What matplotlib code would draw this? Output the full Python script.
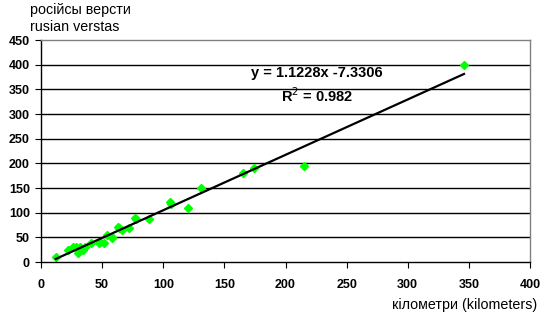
import matplotlib.pyplot as plt
import numpy as np

# kilometers vs russian versts
km = [12, 22, 26.5, 29, 30.5, 32, 34, 36, 40.5, 47.5, 48, 51.5, 54, 58, 58,
      63, 64, 66, 72, 77, 78, 88.5, 105.5, 106, 120.5, 130.5, 165, 174,
      215.5, 346]
versts = [10, 25, 31, 31, 19, 31, 24, 30, 39, 39, 40, 39, 54, 51, 48,
          71, 68, 65, 69, 89, 88, 88, 122, 118, 110, 150, 180, 191,
          195, 400]

slope = 1.1228
intercept = -7.3306
r2 = 0.982

xticks = [0, 50, 100, 150, 200, 250, 300, 350, 400]
yticks = [0, 50, 100, 150, 200, 250, 300, 350, 400, 450]

plt.rcParams['font.family'] = ['Liberation Sans', 'DejaVu Sans']

fig = plt.figure(figsize=(5.46, 3.14), dpi=100)
ax = fig.add_axes([0.0751, 0.1656, 0.8956, 0.707])

# gridlines
for y in yticks[1:-1]:
    ax.axhline(y, color='black', lw=1.0, zorder=1)

ax.plot(km, versts, linestyle='none', marker='D', markersize=4.3,
        color='#00ff00', markeredgecolor='#00ff00', zorder=2)

# trend line
xl = np.array([min(km), max(km)])
ax.plot(xl, slope * xl + intercept, color='black', lw=1.6, zorder=3)

ax.set_xlim(0, 400)
ax.set_ylim(0, 450)
ax.set_xticks(xticks)
ax.set_yticks(yticks)
ax.tick_params(axis='both', labelsize=9, length=4, width=0.8, color='black',
               direction='out')
for lab in ax.get_xticklabels() + ax.get_yticklabels():
    lab.set_fontweight('bold')
ax.tick_params(axis='x', pad=8)
ax.tick_params(axis='y', pad=4)

for s in ['left', 'bottom']:
    ax.spines[s].set_color('black')
    ax.spines[s].set_linewidth(1.0)
for s in ['top', 'right']:
    ax.spines[s].set_color('#808080')
    ax.spines[s].set_linewidth(1.0)

ax.text(0.564, 0.851, 'y = 1.1228x -7.3306', transform=ax.transAxes,
        fontsize=10.5, fontweight='bold', ha='center', va='center')
ax.text(0.564, 0.748, 'R$^2$ = %.3f' % r2, transform=ax.transAxes,
        fontsize=10.5, fontweight='bold', ha='center', va='center')

fig.text(30 / 546, 1 - 10 / 314, 'російсы версти', fontsize=10.3,
         ha='left', va='center')
fig.text(30 / 546, 1 - 27 / 314, 'rusian verstas', fontsize=10.3,
         ha='left', va='center')
fig.text(537 / 546, 1 - 305 / 314, 'кілометри (kilometers)', fontsize=10.3,
         ha='right', va='center')

fig.savefig('out.png', dpi=100)
